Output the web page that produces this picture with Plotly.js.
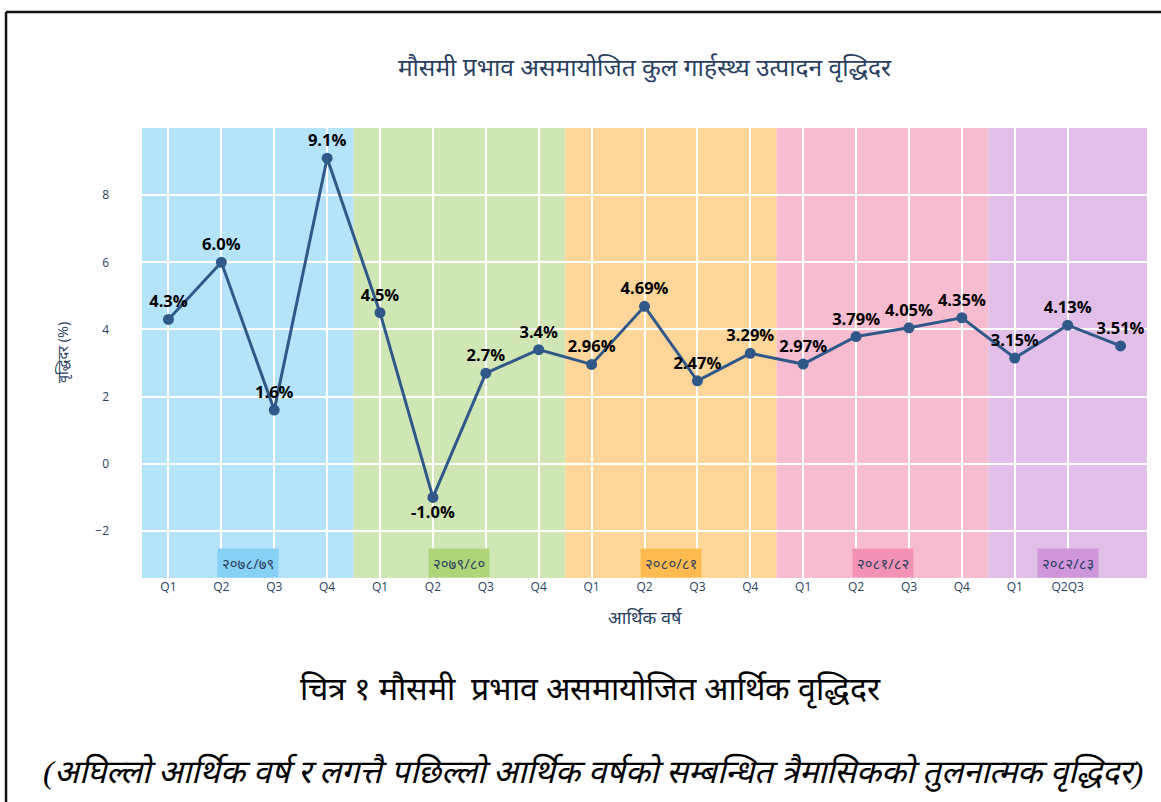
<!DOCTYPE html>
<html>
<head>
<meta charset="utf-8">
<script src="https://cdn.plot.ly/plotly-3.0.1.min.js"></script>
<style>
html,body{margin:0;padding:0;background:#fff;}
#chart{width:1161px;height:802px;}
</style>
</head>
<body>
<div id="chart"></div>
<script>
// ---- data ----
var quarterIndex = [0,1,2,3,4,5,6,7,8,9,10,11,12,13,14,15,16,17,18];
var growthValues = [4.3, 6.0, 1.6, 9.1, 4.5, -1.0, 2.7, 3.4, 2.96, 4.69, 2.47, 3.29, 2.97, 3.79, 4.05, 4.35, 3.15, 4.13, 3.51];
var labelDecimals = [1,1,1,1,1,1,1,1,2,2,2,2,2,2,2,2,2,2,2];
var tickValues = [0,1,2,3,4,5,6,7,8,9,10,11,12,13,14,15,16,17];
var tickLabels = ["Q1","Q2","Q3","Q4","Q1","Q2","Q3","Q4","Q1","Q2","Q3","Q4","Q1","Q2","Q3","Q4","Q1","Q2Q3"];
var fiscalYears = ["२०७८/७९","२०७९/८०","२०८०/८१","२०८१/८२","२०८२/८३"];
var yearStart = [-0.5, 3.5, 7.5, 11.5, 15.5];
var yearEnd = [3.5, 7.5, 11.5, 15.5, 18.5];
var bandColors = ["rgb(181,228,250)","rgb(208,230,181)","rgb(255,214,153)","rgb(248,188,208)","rgb(225,191,233)"];
var boxColors = ["rgb(135,208,246)","rgb(175,213,122)","rgb(255,186,80)","rgb(243,146,180)","rgb(208,150,218)"];

var textLabels = growthValues.map(function(v,i){ return v.toFixed(labelDecimals[i]) + "%"; });
var textPos = growthValues.map(function(v){ return v < 0 ? "bottom center" : "top center"; });

var trace = {
  x: quarterIndex,
  y: growthValues,
  type: "scatter",
  mode: "lines+markers+text",
  line: {color: "#30598a", width: 3},
  marker: {color: "#30598a", size: 11},
  text: textLabels,
  textposition: textPos,
  textfont: {family: "Open Sans, sans-serif", size: 16.5, color: "#000", weight: "bold"},
  hoverinfo: "x+y",
  cliponaxis: false
};

var shapes = [];
var annotations = [];
for (var i = 0; i < fiscalYears.length; i++) {
  shapes.push({type: "rect", xref: "x", yref: "paper", x0: yearStart[i], x1: yearEnd[i], y0: 0, y1: 1,
    fillcolor: bandColors[i], line: {width: 0}, layer: "below"});
  annotations.push({text: fiscalYears[i], xref: "x", yref: "paper", x: (yearStart[i] + yearEnd[i]) / 2, y: 0.033,
    yanchor: "middle", showarrow: false, bgcolor: boxColors[i], borderpad: 4,
    font: {family: "Open Sans, Noto Sans, sans-serif", size: 15, color: "#2a3f5f"}});
}
// frame
shapes.push({type: "line", xref: "paper", yref: "paper", x0: -0.1353, x1: 1.2, y0: 1.258, y1: 1.258, line: {color: "#111", width: 2.5}, layer: "above"});
shapes.push({type: "line", xref: "paper", yref: "paper", x0: -0.1353, x1: -0.1353, y0: 1.258, y1: -0.6, line: {color: "#111", width: 2.5}, layer: "above"});

// axis titles & captions
annotations.push({text: "वृद्धिदर (%)", xref: "paper", yref: "paper", x: -0.0786, y: 0.5, textangle: -90,
  xanchor: "center", yanchor: "middle",
  showarrow: false, font: {family: "Open Sans, Noto Sans, sans-serif", size: 14.5, color: "#2a3f5f"}});
annotations.push({text: "आर्थिक वर्ष", xref: "paper", yref: "paper", x: 0.5, y: -0.087,
  xanchor: "center", yanchor: "middle",
  showarrow: false, font: {family: "Open Sans, Noto Sans, sans-serif", size: 18, color: "#2a3f5f"}});
annotations.push({text: "चित्र १ मौसमी  प्रभाव असमायोजित आर्थिक वृद्धिदर", xref: "paper", yref: "paper", x: 0.4458, y: -0.249,
  xanchor: "center", yanchor: "middle",
  showarrow: false, font: {family: "Liberation Serif, serif", size: 32, color: "#000"}});
annotations.push({text: "<i>(अघिल्लो आर्थिक वर्ष र लगत्तै पछिल्लो आर्थिक वर्षको सम्बन्धित त्रैमासिकको तुलनात्मक वृद्धिदर)</i>", xref: "paper", yref: "paper", x: 0.4487, y: -0.433,
  xanchor: "center", yanchor: "middle",
  showarrow: false, font: {family: "Liberation Serif, serif", size: 32.6, color: "#000"}});

var layout = {
  width: 1161, height: 802,
  margin: {l: 142, r: 14, t: 128, b: 224},
  paper_bgcolor: "#fff",
  plot_bgcolor: "#fff",
  showlegend: false,
  title: {text: "मौसमी प्रभाव असमायोजित कुल गार्हस्थ्य उत्पादन वृद्धिदर", x: 0.5, xref: "paper", y: 0.9165, yanchor: "middle",
    font: {family: "Open Sans, Noto Sans, sans-serif", size: 24.5, color: "#2a3f5f"}},
  xaxis: {range: [-0.5, 18.5], tickmode: "array", tickvals: tickValues, ticktext: tickLabels,
    showgrid: true, gridcolor: "#fff", gridwidth: 1.5, zeroline: false, showline: false,
    tickfont: {family: "Open Sans, sans-serif", size: 12, color: "#2a3f5f"}, fixedrange: true},
  yaxis: {range: [-3.4, 10], tickvals: [-2,0,2,4,6,8], showgrid: true, gridcolor: "#fff", gridwidth: 1.5,
    zeroline: true, zerolinecolor: "#fff", zerolinewidth: 2, showline: false, ticklabelstandoff: 32,
    tickfont: {family: "Open Sans, sans-serif", size: 12, color: "#2a3f5f"}, fixedrange: true},
  shapes: shapes,
  annotations: annotations
};

Plotly.newPlot("chart", [trace], layout, {displayModeBar: false, staticPlot: false});
</script>
</body>
</html>
